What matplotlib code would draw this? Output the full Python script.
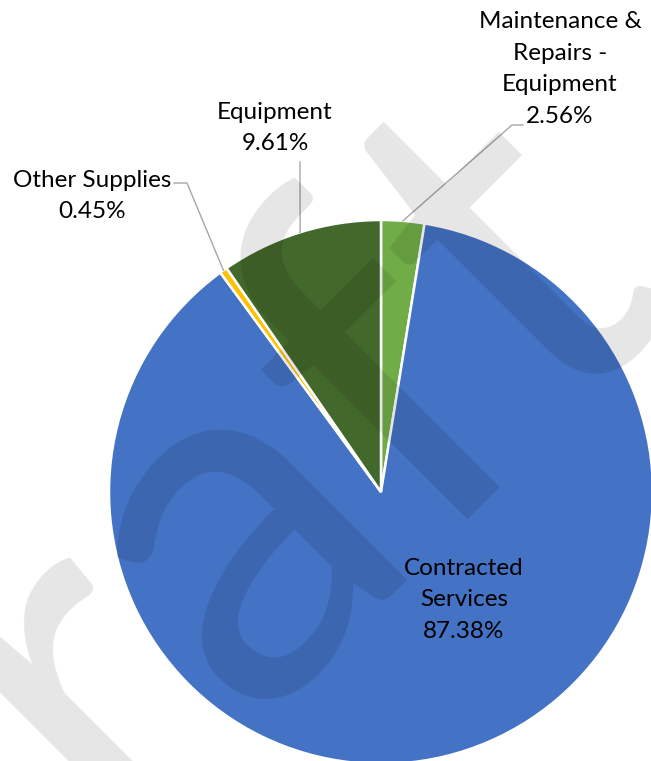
import matplotlib
matplotlib.use('Agg')
import numpy as np
import matplotlib.pyplot as plt

# Данные диаграммы (порядок как в Excel: от 12 часов по часовой стрелке)
categories = ['Maintenance &\nRepairs -\nEquipment', 'Contracted\nServices', 'Other Supplies', 'Equipment']
shares = [2.56, 87.38, 0.45, 9.61]
colors = ['#70AD47', '#4472C4', '#FFC000', '#43682B']

# Размер картинки в пикселях
W, H = 651, 761
DPI = 100

# Положение подписей (в пикселях, ось y вверх) и изломы выносных линий
label_pos = [(560, 692), (464, 161), (92, 565), (275, 633)]
leader_pts = [[(512, 636), (523, 636)], None, [(187, 578), (174, 578)], [(300, 599)]]

plt.rcParams['font.family'] = ['Lato', 'DejaVu Sans']

fig = plt.figure(figsize=(W / DPI, H / DPI), dpi=DPI)
ax = fig.add_axes([0, 0, 1, 1])

# Круговая диаграмма
center = (381, H - 492)
radius = 272
wedges, _ = ax.pie(shares, colors=colors, startangle=90, counterclock=False,
                   center=center, radius=radius, frame=True,
                   wedgeprops=dict(edgecolor='white', linewidth=1.8))
ax.set_xlim(0, W)
ax.set_ylim(0, H)
ax.axis('off')

# Подписи и выносные линии
for w, name, val, pos, pts in zip(wedges, categories, shares, label_pos, leader_pts):
    text = f'{name}\n{val:.2f}%'
    ax.text(pos[0], pos[1], text, ha='center', va='center', fontsize=17.5,
            linespacing=1.63, color='black', zorder=5)
    if pts is None:
        continue
    mid = np.deg2rad((w.theta1 + w.theta2) / 2)
    x0 = center[0] + radius * np.cos(mid)
    y0 = center[1] + radius * np.sin(mid)
    xs = [x0] + [p[0] for p in pts]
    ys = [y0] + [p[1] for p in pts]
    ax.plot(xs, ys, color='#A6A6A6', linewidth=1, zorder=4)

# Водяной знак "Draft"
fig.text(255 / W, 75 / H, 'Draft', fontsize=365, color='black', alpha=0.1,
         rotation=45, rotation_mode='anchor', ha='center', va='baseline', zorder=10)

fig.savefig('out.png', dpi=DPI)
